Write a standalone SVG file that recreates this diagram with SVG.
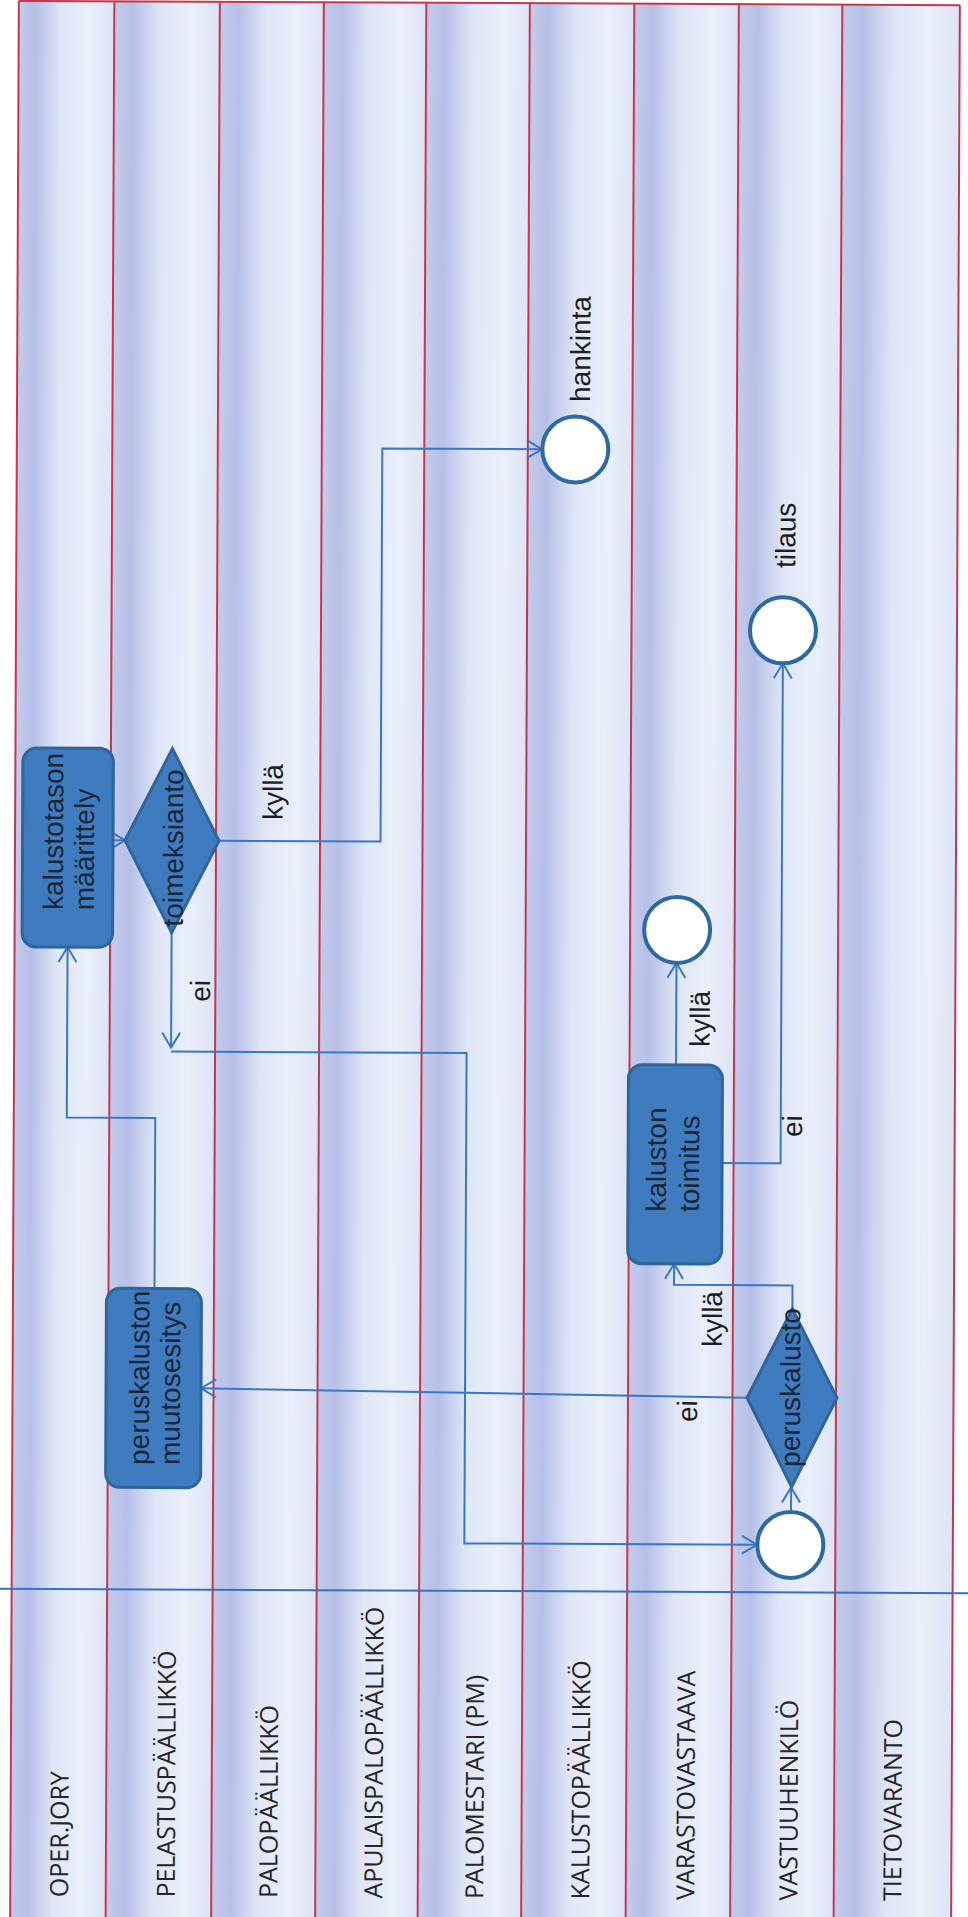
<svg xmlns="http://www.w3.org/2000/svg" width="968" height="1917" viewBox="0 0 968 1917">
  <defs>
    <linearGradient id="laneShade" x1="0" y1="0" x2="1" y2="0">
      <stop offset="0" stop-color="#c3cbeb"/>
      <stop offset="0.18" stop-color="#b6c0e7"/>
      <stop offset="0.45" stop-color="#dfe6f6"/>
      <stop offset="0.75" stop-color="#e9eef9"/>
      <stop offset="1" stop-color="#dde4f5"/>
    </linearGradient>
    <marker id="arrow" markerUnits="userSpaceOnUse" viewBox="0 0 20 20" refX="19" refY="10" markerWidth="20" markerHeight="20" orient="auto">
      <path d="M4,1 L19,10 L4,19" fill="none" stroke="#3b76c4" stroke-width="2"/>
    </marker>
    <style>
      .lane{fill:url(#laneShade)}
      .sep{stroke:#c8364c;stroke-width:2}
      .lbl{font-family:"Open Sans","DejaVu Sans",sans-serif;font-size:25px;fill:#262626}
      .task{fill:#3f7cbf;stroke:#2f649c;stroke-width:3}
      .event{fill:#fff;stroke:#2d6aa4;stroke-width:4}
      .ntxt{font-family:"Liberation Sans",Arial,sans-serif;font-size:28px;fill:#1b2535}
      .etxt{font-family:"Liberation Sans",Arial,sans-serif;font-size:28px;fill:#1e1e1e}
      .flow{fill:none;stroke:#3b76c4;stroke-width:2;marker-end:url(#arrow)}
      .divider{stroke:#3c6fc0;stroke-width:2}
    </style>
  </defs>

  <rect x="0" y="0" width="968" height="1917" fill="#ffffff"/>

  <!-- whole sheet is turned a quarter of a degree -->
  <g transform="rotate(0.26 484 958)">

    <!-- swimlanes -->
    <g id="lanes">
      <rect class="lane" x="14.5" y="3" width="95.5" height="1930"/>
      <rect class="lane" x="110" y="3" width="105.5" height="1930"/>
      <rect class="lane" x="215.5" y="3" width="104" height="1930"/>
      <rect class="lane" x="319.5" y="3" width="102.5" height="1930"/>
      <rect class="lane" x="422" y="3" width="103.5" height="1930"/>
      <rect class="lane" x="525.5" y="3" width="104.5" height="1930"/>
      <rect class="lane" x="630" y="3" width="104.5" height="1930"/>
      <rect class="lane" x="734.5" y="3" width="103.5" height="1930"/>
      <rect class="lane" x="838" y="3" width="117.5" height="1930"/>
      <line class="sep" x1="14.5" y1="3" x2="955.5" y2="3"/>
      <line class="sep" x1="14.5" y1="3" x2="14.5" y2="1935"/>
      <line class="sep" x1="110" y1="3" x2="110" y2="1935"/>
      <line class="sep" x1="215.5" y1="3" x2="215.5" y2="1935"/>
      <line class="sep" x1="319.5" y1="3" x2="319.5" y2="1935"/>
      <line class="sep" x1="422" y1="3" x2="422" y2="1935"/>
      <line class="sep" x1="525.5" y1="3" x2="525.5" y2="1935"/>
      <line class="sep" x1="630" y1="3" x2="630" y2="1935"/>
      <line class="sep" x1="734.5" y1="3" x2="734.5" y2="1935"/>
      <line class="sep" x1="838" y1="3" x2="838" y2="1935"/>
      <line class="sep" x1="955.5" y1="3" x2="955.5" y2="1935"/>
      <line class="divider" x1="-6" y1="1591" x2="975" y2="1591"/>
    </g>

    <g id="lane-labels">
      <text class="lbl" x="72.3" y="1899" transform="rotate(-90 72.3 1899)">OPER.JORY</text>
      <text class="lbl" x="179" y="1899" transform="rotate(-90 179 1899)">PELASTUSPÄÄLLIKKÖ</text>
      <text class="lbl" x="281.5" y="1899" transform="rotate(-90 281.5 1899)">PALOPÄÄLLIKKÖ</text>
      <text class="lbl" x="386.5" y="1899" transform="rotate(-90 386.5 1899)">APULAISPALOPÄÄLLIKKÖ</text>
      <text class="lbl" x="487.5" y="1899" transform="rotate(-90 487.5 1899)">PALOMESTARI (PM)</text>
      <text class="lbl" x="593.5" y="1899" transform="rotate(-90 593.5 1899)">KALUSTOPÄÄLLIKKÖ</text>
      <text class="lbl" x="698.5" y="1899" transform="rotate(-90 698.5 1899)">VARASTOVASTAAVA</text>
      <text class="lbl" x="801.5" y="1899" transform="rotate(-90 801.5 1899)">VASTUUHENKILÖ</text>
      <text class="lbl" x="905.5" y="1899" transform="rotate(-90 905.5 1899)">TIETOVARANTO</text>
    </g>

    <!-- connectors -->
    <g id="connectors">
      <path class="flow" d="M112.5,842 H124.5"/>
      <path class="flow" d="M218.5,842 H380 V449 H539.5"/>
      <path class="flow" d="M171.5,934 V1049"/>
      <path class="flow" d="M171.5,1053 H467 V1543.5 H759.5"/>
      <path class="flow" d="M156,1290 V1119.5 H67.5 V949"/>
      <path class="flow" d="M749,1396.5 L203,1389.5"/>
      <path class="flow" d="M794,1307.5 V1284 H675.5 V1263"/>
      <path class="flow" d="M793.5,1510.5 V1486"/>
      <path class="flow" d="M676.5,1064 V962"/>
      <path class="flow" d="M722.8,1162 H781.5 V662"/>
      <text class="etxt" x="282" y="821" transform="rotate(-90 282 821)">kyllä</text>
      <text class="etxt" x="210.2" y="1003" transform="rotate(-90 210.2 1003)">ei</text>
      <text class="etxt" x="710" y="1046" transform="rotate(-90 710 1046)">kyllä</text>
      <text class="etxt" x="802.8" y="1135.6" transform="rotate(-90 802.8 1135.6)">ei</text>
      <text class="etxt" x="723.6" y="1346" transform="rotate(-90 723.6 1346)">kyllä</text>
      <text class="etxt" x="699" y="1421" transform="rotate(-90 699 1421)">ei</text>
    </g>

    <!-- nodes -->
    <g id="kalustotason-maarittely">
      <rect class="task" x="22" y="750" width="90.5" height="199" rx="14"/>
      <text class="ntxt" x="62.5" y="912" transform="rotate(-90 62.5 912)">kalustotason</text>
      <text class="ntxt" x="93.5" y="912" transform="rotate(-90 93.5 912)">määrittely</text>
    </g>

    <g id="toimeksianto">
      <polygon class="task" points="171.5,750 218.5,842 171.5,934 124.5,842"/>
      <text class="ntxt" x="182.5" y="928" transform="rotate(-90 182.5 928)">toimeksianto</text>
    </g>

    <g id="hankinta">
      <circle class="event" cx="573" cy="449" r="33"/>
      <text class="etxt" x="587.5" y="401.5" transform="rotate(-90 587.5 401.5)">hankinta</text>
    </g>

    <g id="toimitettu">
      <circle class="event" cx="677" cy="929" r="33"/>
    </g>

    <g id="tilaus">
      <circle class="event" cx="781.5" cy="629" r="33"/>
      <text class="etxt" x="793.5" y="566.6" transform="rotate(-90 793.5 566.6)">tilaus</text>
    </g>

    <g id="kaluston-toimitus">
      <rect class="task" x="629" y="1064" width="94" height="199" rx="14"/>
      <text class="ntxt" x="667" y="1211" transform="rotate(-90 667 1211)">kaluston</text>
      <text class="ntxt" x="700" y="1211" transform="rotate(-90 700 1211)">toimitus</text>
    </g>

    <g id="peruskaluston-muutosesitys">
      <rect class="task" x="108" y="1290" width="95" height="199" rx="14"/>
      <text class="ntxt" x="151" y="1466.5" transform="rotate(-90 151 1466.5)">peruskaluston</text>
      <text class="ntxt" x="182" y="1466.5" transform="rotate(-90 182 1466.5)">muutosesitys</text>
    </g>

    <g id="peruskalusto">
      <polygon class="task" points="794,1307.5 839,1396.5 794,1485.5 749,1396.5"/>
      <text class="ntxt" x="802" y="1465.5" transform="rotate(-90 802 1465.5)">peruskalusto</text>
    </g>

    <g id="alku">
      <circle class="event" cx="793" cy="1543.5" r="33"/>
    </g>
  </g>
</svg>
